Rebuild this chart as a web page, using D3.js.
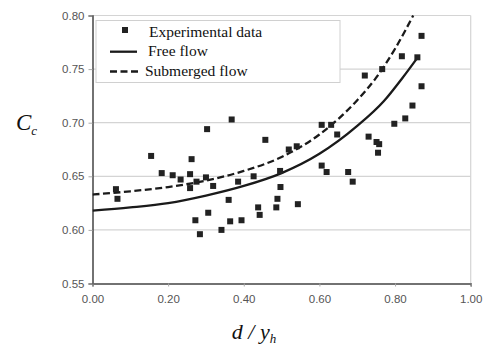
<!DOCTYPE html>
<html><head><meta charset="utf-8">
<script src="https://cdn.jsdelivr.net/npm/d3@7"></script>
<style>body{margin:0;background:#fff}svg{display:block}</style>
</head><body>
<svg id="c" width="486" height="347"></svg>
<script>
// Experimental data (d/yh, Cc)
const expX = [0.062,0.066,0.155,0.183,0.212,0.233,0.258,0.262,0.258,0.275,0.300,0.303,0.319,0.272,0.284,0.306,0.341,0.360,0.368,0.364,0.394,0.385,0.426,0.457,0.438,0.442,0.489,0.486,0.496,0.497,0.519,0.540,0.543,0.606,0.631,0.647,0.606,0.619,0.676,0.688,0.730,0.751,0.758,0.755,0.720,0.766,0.798,0.827,0.846,0.818,0.859,0.870,0.870];
const expY = [0.638,0.629,0.669,0.653,0.651,0.647,0.652,0.666,0.639,0.645,0.649,0.694,0.641,0.609,0.596,0.616,0.600,0.628,0.703,0.608,0.609,0.645,0.650,0.684,0.621,0.614,0.629,0.621,0.655,0.640,0.675,0.678,0.624,0.698,0.698,0.689,0.660,0.654,0.654,0.645,0.687,0.682,0.680,0.672,0.744,0.750,0.699,0.704,0.716,0.762,0.761,0.781,0.734];
// Free flow curve samples
const freeX = [0,0.1,0.2,0.3,0.4,0.5,0.6,0.7,0.77,0.82,0.86];
const freeY = [0.618,0.621,0.625,0.632,0.641,0.653,0.671,0.697,0.720,0.742,0.761];
// Submerged flow curve samples
const subX = [0,0.1,0.2,0.3,0.4,0.5,0.6,0.7,0.75,0.8,0.848];
const subY = [0.633,0.636,0.640,0.646,0.655,0.668,0.689,0.721,0.742,0.769,0.800];
const xTicks = [0,0.2,0.4,0.6,0.8,1.0];
const yTicks = [0.55,0.60,0.65,0.70,0.75,0.80];
const legendLabels = ["Experimental data","Free flow","Submerged flow"];

const svg = d3.select("#c");
const L=92.5,R=470.7,T=15.5,B=283.5;
const x = d3.scaleLinear().domain([0,1]).range([L,R]);
const y = d3.scaleLinear().domain([0.55,0.80]).range([B,T]);

svg.append("defs").append("clipPath").attr("id","clip")
  .append("rect").attr("x",L).attr("y",T-1).attr("width",R-L).attr("height",B-T+1);

// gridlines
svg.append("g").selectAll("line").data(yTicks.filter(v=>v>0.56)).join("line")
  .attr("x1",L).attr("x2",R).attr("y1",d=>y(d)).attr("y2",d=>y(d))
  .attr("stroke","#d4d4d4").attr("stroke-width",1.2);
// right border
svg.append("line").attr("x1",R).attr("x2",R).attr("y1",T).attr("y2",B).attr("stroke","#d4d4d4").attr("stroke-width",1.2);

// axes
const yAxis = svg.append("g").attr("transform",`translate(${L},0)`)
  .call(d3.axisLeft(y).tickValues(yTicks).tickFormat(d3.format(".2f")).tickSize(4).tickPadding(4));
const xAxis = svg.append("g").attr("transform",`translate(0,${B})`)
  .call(d3.axisBottom(x).tickValues(xTicks).tickFormat(d3.format(".2f")).tickSize(3).tickPadding(6));
[yAxis,xAxis].forEach(g=>{
  g.select(".domain").attr("stroke","#444").attr("stroke-width",1.5);
  g.selectAll(".tick line").attr("stroke","#aaa");
  g.selectAll("text").attr("fill","#555").attr("font-family","Liberation Sans, Arial, sans-serif").attr("font-size",11.5);
});
xAxis.selectAll("text").attr("dy","0.9em");

// curves
const line = d3.line().x(d=>x(d[0])).y(d=>y(d[1])).curve(d3.curveMonotoneX);
const plot = svg.append("g").attr("clip-path","url(#clip)");
plot.append("path").datum(freeX.map((v,i)=>[v,freeY[i]])).attr("d",line)
  .attr("fill","none").attr("stroke","#1a1a1a").attr("stroke-width",2.3);
plot.append("path").datum(subX.map((v,i)=>[v,subY[i]])).attr("d",line)
  .attr("fill","none").attr("stroke","#1a1a1a").attr("stroke-width",2.3).attr("stroke-dasharray","7,3.5");

// points
const s=6;
svg.append("g").selectAll("rect").data(expX.map((v,i)=>[v,expY[i]])).join("rect")
  .attr("x",d=>x(d[0])-s/2).attr("y",d=>y(d[1])-s/2).attr("width",s).attr("height",s)
  .attr("fill","#222");

// legend
const lg = svg.append("g");
lg.append("rect").attr("x",96).attr("y",20.5).attr("width",244).attr("height",62)
  .attr("fill","#fff").attr("stroke","#d0d0d0").attr("stroke-width",1);
lg.append("rect").attr("x",122).attr("y",27).attr("width",6).attr("height",6).attr("fill","#222");
lg.append("line").attr("x1",110).attr("x2",137).attr("y1",51.7).attr("y2",51.7).attr("stroke","#1a1a1a").attr("stroke-width",2.3);
lg.append("line").attr("x1",110).attr("x2",138).attr("y1",71.5).attr("y2",71.5).attr("stroke","#1a1a1a").attr("stroke-width",2.3).attr("stroke-dasharray","7,3.5");
const lx=[149,148,145], ly=[37,56,76];
lg.selectAll("text").data(legendLabels).join("text")
  .attr("x",(d,i)=>lx[i]).attr("y",(d,i)=>ly[i]).text(d=>d)
  .attr("font-family","Liberation Serif, Times New Roman, serif").attr("font-size",15.5).attr("fill","#111");

// axis titles
const yt = svg.append("text").attr("x",16).attr("y",130)
  .attr("font-family","Liberation Serif, Times New Roman, serif").attr("font-style","italic").attr("fill","#111");
yt.append("tspan").attr("font-size",23).text("C");
yt.append("tspan").attr("font-size",13).attr("dy",5).text("c");
const xt = svg.append("text").attr("x",254).attr("y",339).attr("text-anchor","middle")
  .attr("font-family","Liberation Serif, Times New Roman, serif").attr("font-style","italic").attr("fill","#111");
xt.append("tspan").attr("font-size",22).text("d / y");
xt.append("tspan").attr("font-size",13).attr("dy",4).text("h");
</script>
</body></html>
